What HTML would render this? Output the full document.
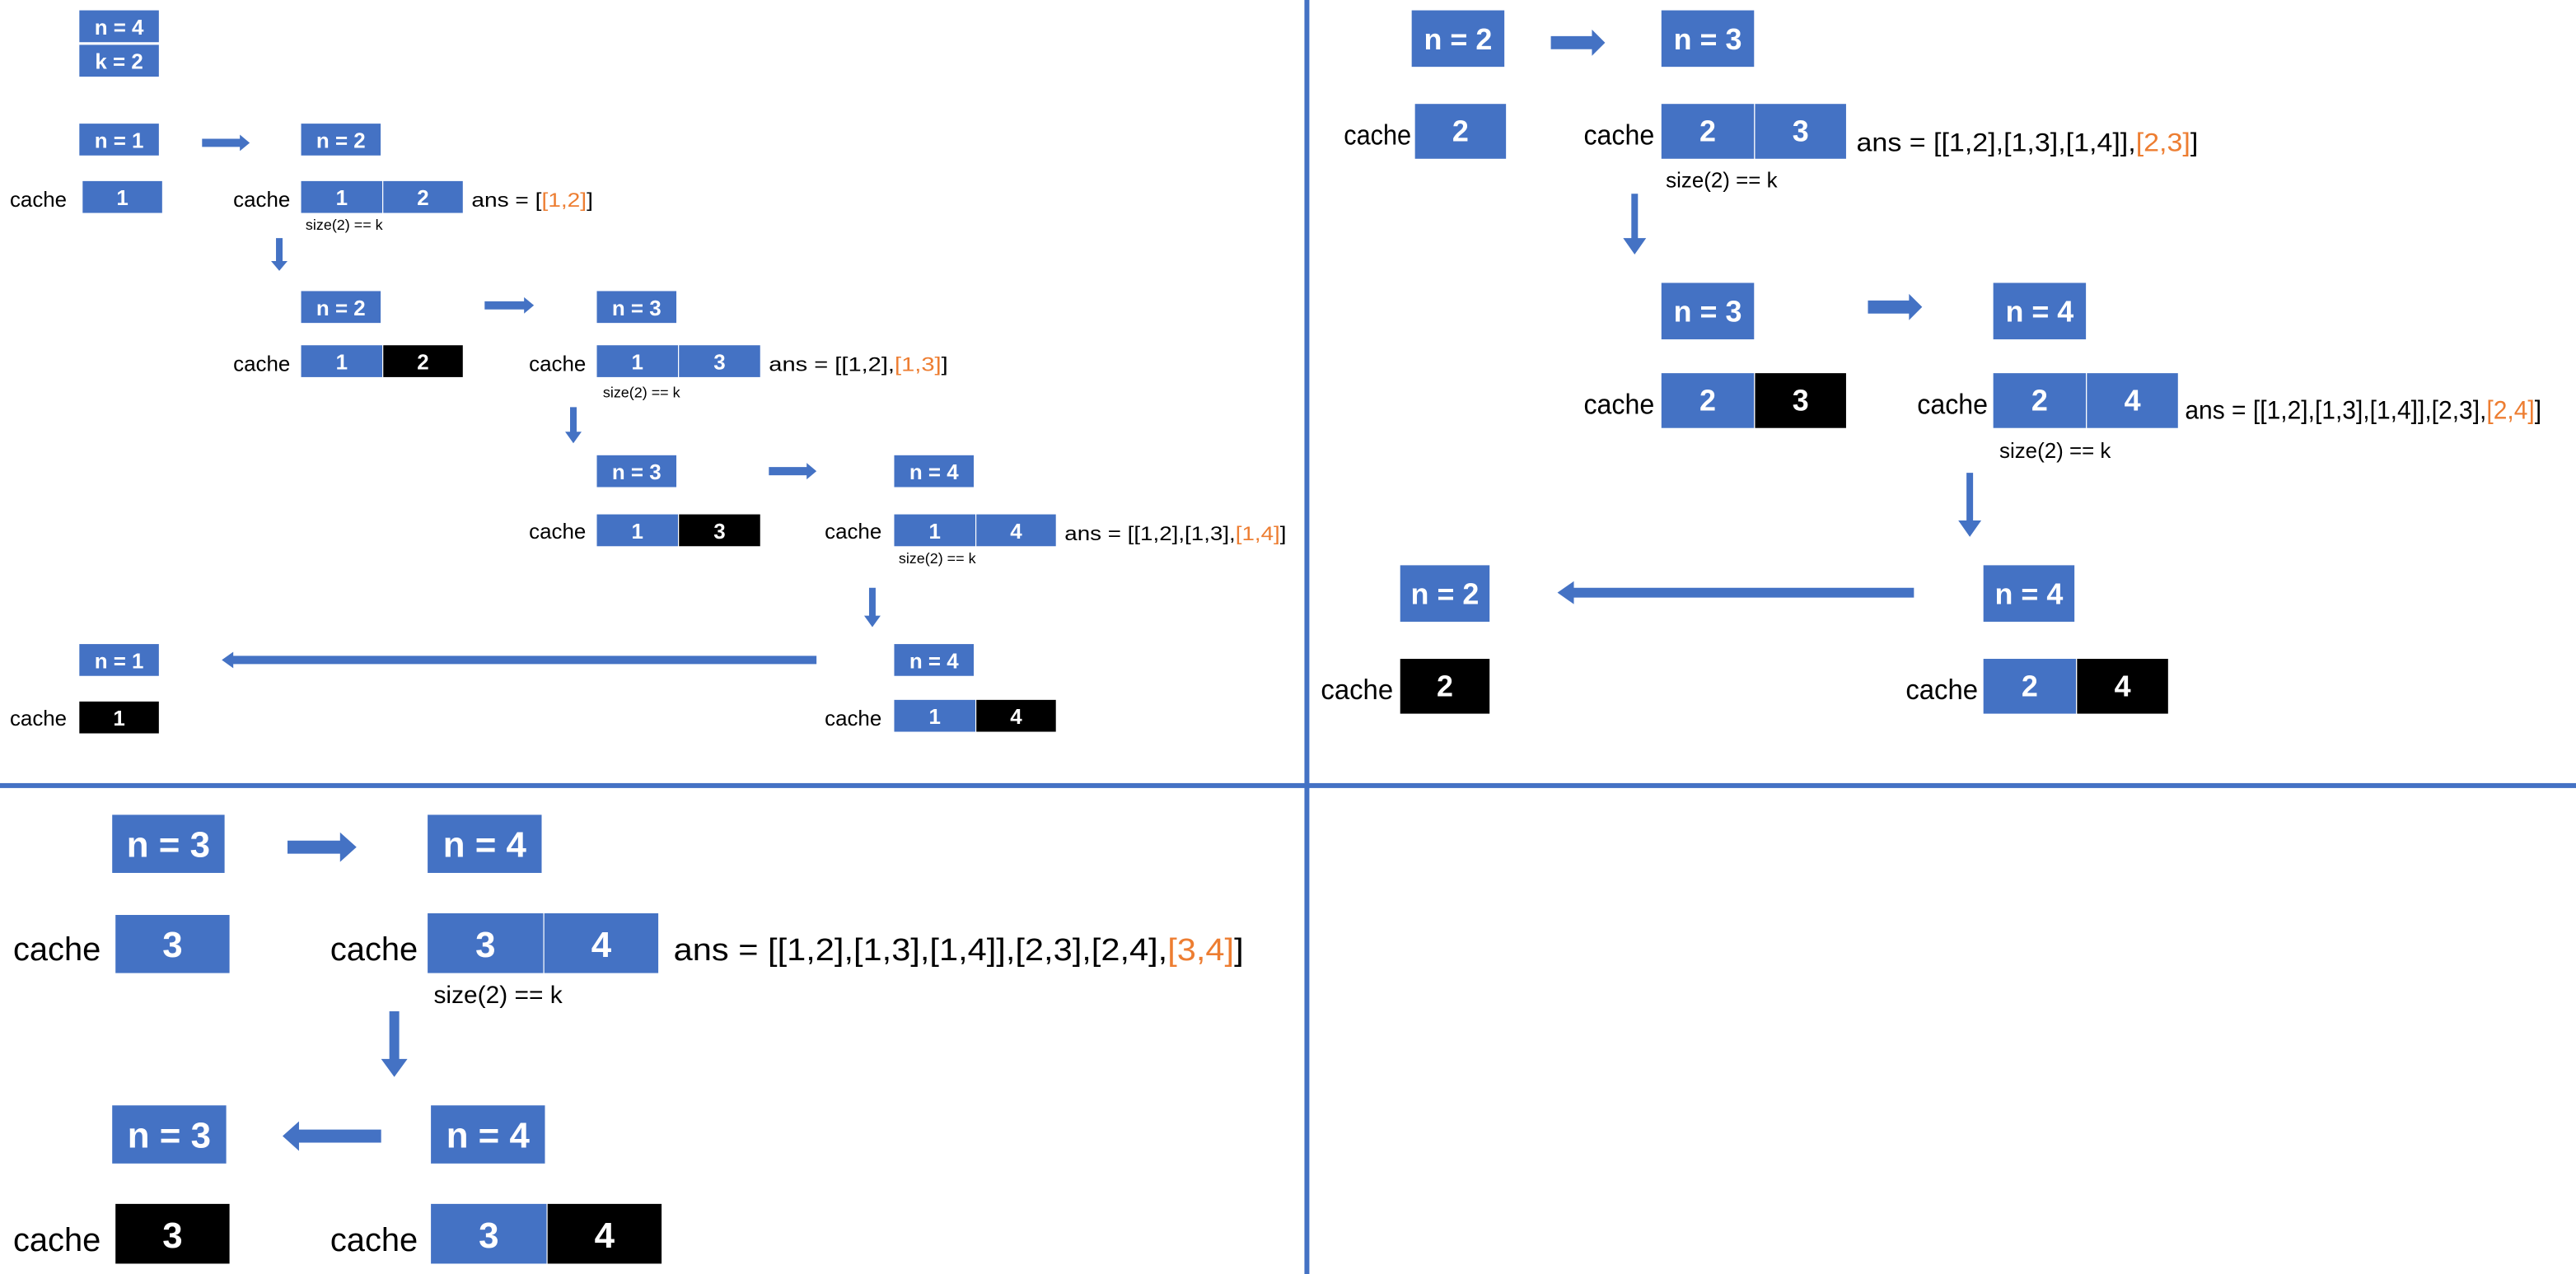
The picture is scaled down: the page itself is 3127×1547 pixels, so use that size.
<!DOCTYPE html>
<html><head><meta charset="utf-8"><style>
html,body{margin:0;padding:0;background:#fff;}
svg{display:block;}
text{font-family:"Liberation Sans Narrow","Liberation Sans",sans-serif;}
.b{fill:#4472C4;stroke:#fff;stroke-width:0.6;}
.k{fill:#000;stroke:#fff;stroke-width:0.6;}
.w{fill:#fff;font-weight:bold;text-anchor:middle;}
.a{fill:#4472C4;}
.o{fill:#ED7D31;}
</style></head><body>
<svg width="3127" height="1547" viewBox="0 0 1568 776" preserveAspectRatio="none" xmlns="http://www.w3.org/2000/svg">
<rect x="0" y="0" width="1568" height="776" fill="#fff"/>
<rect x="794" y="0" width="3" height="776" fill="#4472C4"/>
<rect x="0" y="477" width="1568" height="3" fill="#4472C4"/>

<!-- ========== TOP LEFT ========== -->
<g font-size="13">
<rect class="b" x="48" y="6" width="49" height="20"/><text class="w" x="72.5" y="21">n = 4</text>
<rect class="b" x="48" y="27" width="49" height="20"/><text class="w" x="72.5" y="42">k = 2</text>

<rect class="b" x="48" y="75" width="49" height="20"/><text class="w" x="72.5" y="90">n = 1</text>
<rect class="b" x="183" y="75" width="49" height="20"/><text class="w" x="207.5" y="90">n = 2</text>
<polygon class="a" points="123,84.5 146,84.5 146,82 152,87 146,92 146,89.5 123,89.5"/>

<rect class="b" x="50" y="110" width="49" height="20"/><text class="w" x="74.5" y="125">1</text>
<rect class="b" x="183" y="110" width="50" height="20"/><text class="w" x="208" y="125">1</text>
<rect class="b" x="233" y="110" width="49" height="20"/><text class="w" x="257.5" y="125">2</text>

<polygon class="a" points="168,145 172,145 172,159 175,159 170,165 165,159 168,159"/>

<rect class="b" x="183" y="177" width="49" height="20"/><text class="w" x="207.5" y="192">n = 2</text>
<polygon class="a" points="295,183.5 319,183.5 319,181 325,186 319,191 319,188.5 295,188.5"/>
<rect class="b" x="363" y="177" width="49" height="20"/><text class="w" x="387.5" y="192">n = 3</text>

<rect class="b" x="183" y="210" width="50" height="20"/><text class="w" x="208" y="225">1</text>
<rect class="k" x="233" y="210" width="49" height="20"/><text class="w" x="257.5" y="225">2</text>
<rect class="b" x="363" y="210" width="50" height="20"/><text class="w" x="388" y="225">1</text>
<rect class="b" x="413" y="210" width="50" height="20"/><text class="w" x="438" y="225">3</text>

<polygon class="a" points="347,248 351,248 351,263 354,263 349,270 344,263 347,263"/>

<rect class="b" x="363" y="277" width="49" height="20"/><text class="w" x="387.5" y="292">n = 3</text>
<polygon class="a" points="468,284.5 491,284.5 491,282 497,287 491,292 491,289.5 468,289.5"/>
<rect class="b" x="544" y="277" width="49" height="20"/><text class="w" x="568.5" y="292">n = 4</text>

<rect class="b" x="363" y="313" width="50" height="20"/><text class="w" x="388" y="328">1</text>
<rect class="k" x="413" y="313" width="50" height="20"/><text class="w" x="438" y="328">3</text>
<rect class="b" x="544" y="313" width="50" height="20"/><text class="w" x="569" y="328">1</text>
<rect class="b" x="594" y="313" width="49" height="20"/><text class="w" x="618.5" y="328">4</text>

<polygon class="a" points="529,358 533,358 533,375 536,375 531,382 526,375 529,375"/>

<rect class="b" x="48" y="392" width="49" height="20"/><text class="w" x="72.5" y="407">n = 1</text>
<polygon class="a" points="497,399.5 142,399.5 142,397 135,402 142,407 142,404.5 497,404.5"/>
<rect class="b" x="544" y="392" width="49" height="20"/><text class="w" x="568.5" y="407">n = 4</text>

<rect class="k" x="48" y="427" width="49" height="20"/><text class="w" x="72.5" y="442">1</text>
<rect class="b" x="544" y="426" width="50" height="20"/><text class="w" x="569" y="441">1</text>
<rect class="k" x="594" y="426" width="49" height="20"/><text class="w" x="618.5" y="441">4</text>
</g>
<g font-size="13">
<text x="6" y="126">cache</text>
<text x="142" y="126">cache</text>
<text x="142" y="226">cache</text>
<text x="322" y="226">cache</text>
<text x="322" y="328">cache</text>
<text x="502" y="328">cache</text>
<text x="6" y="442">cache</text>
<text x="502" y="442">cache</text>
</g>
<g font-size="12">
<text x="287" y="126" textLength="74" lengthAdjust="spacingAndGlyphs">ans = [<tspan class="o">[1,2]</tspan>]</text>
<text x="468" y="226" textLength="109" lengthAdjust="spacingAndGlyphs">ans = [[1,2],<tspan class="o">[1,3]</tspan>]</text>
<text x="648" y="329" textLength="135" lengthAdjust="spacingAndGlyphs">ans = [[1,2],[1,3],<tspan class="o">[1,4]</tspan>]</text>
</g>
<g font-size="9">
<text x="186" y="140">size(2) == k</text>
<text x="367" y="242">size(2) == k</text>
<text x="547" y="343">size(2) == k</text>
</g>

<!-- ========== TOP RIGHT ========== -->
<g font-size="18">
<rect class="b" x="859" y="6" width="57" height="35"/><text class="w" x="887.5" y="30">n = 2</text>
<polygon class="a" points="944,22 969,22 969,18 977,26 969,34 969,30 944,30"/>
<rect class="b" x="1011" y="6" width="57" height="35"/><text class="w" x="1039.5" y="30">n = 3</text>

<rect class="b" x="861" y="63" width="56" height="34"/><text class="w" x="889" y="86">2</text>
<rect class="b" x="1011" y="63" width="57" height="34"/><text class="w" x="1039.5" y="86">2</text>
<rect class="b" x="1068" y="63" width="56" height="34"/><text class="w" x="1096" y="86">3</text>

<polygon class="a" points="993,118 997,118 997,145 1002,145 995,155 988,145 993,145"/>

<rect class="b" x="1011" y="172" width="57" height="35"/><text class="w" x="1039.5" y="196">n = 3</text>
<polygon class="a" points="1137,183 1162,183 1162,179 1170,187 1162,195 1162,191 1137,191"/>
<rect class="b" x="1213" y="172" width="57" height="35"/><text class="w" x="1241.5" y="196">n = 4</text>

<rect class="b" x="1011" y="227" width="57" height="34"/><text class="w" x="1039.5" y="250">2</text>
<rect class="k" x="1068" y="227" width="56" height="34"/><text class="w" x="1096" y="250">3</text>
<rect class="b" x="1213" y="227" width="57" height="34"/><text class="w" x="1241.5" y="250">2</text>
<rect class="b" x="1270" y="227" width="56" height="34"/><text class="w" x="1298" y="250">4</text>

<polygon class="a" points="1197,288 1201,288 1201,317 1206,317 1199,327 1192,317 1197,317"/>

<rect class="b" x="852" y="344" width="55" height="35"/><text class="w" x="879.5" y="368">n = 2</text>
<polygon class="a" points="1165,358 958,358 958,354 948,361 958,368 958,364 1165,364"/>
<rect class="b" x="1207" y="344" width="56" height="35"/><text class="w" x="1235" y="368">n = 4</text>

<rect class="k" x="852" y="401" width="55" height="34"/><text class="w" x="879.5" y="424">2</text>
<rect class="b" x="1207" y="401" width="57" height="34"/><text class="w" x="1235.5" y="424">2</text>
<rect class="k" x="1264" y="401" width="56" height="34"/><text class="w" x="1292" y="424">4</text>
</g>
<g font-size="17">
<text x="818" y="88" textLength="41" lengthAdjust="spacingAndGlyphs">cache</text>
<text x="964" y="88" textLength="43" lengthAdjust="spacingAndGlyphs">cache</text>
<text x="964" y="252" textLength="43" lengthAdjust="spacingAndGlyphs">cache</text>
<text x="1167" y="252" textLength="43" lengthAdjust="spacingAndGlyphs">cache</text>
<text x="804" y="426" textLength="44" lengthAdjust="spacingAndGlyphs">cache</text>
<text x="1160" y="426" textLength="44" lengthAdjust="spacingAndGlyphs">cache</text>
</g>
<g font-size="16">
<text x="1130" y="92" textLength="208" lengthAdjust="spacingAndGlyphs">ans = [[1,2],[1,3],[1,4]],<tspan class="o">[2,3]</tspan>]</text>
<text x="1330" y="255" textLength="217" lengthAdjust="spacingAndGlyphs">ans = [[1,2],[1,3],[1,4]],[2,3],<tspan class="o">[2,4]</tspan>]</text>
</g>
<g font-size="13">
<text x="1014" y="114">size(2) == k</text>
<text x="1217" y="279">size(2) == k</text>
</g>

<!-- ========== BOTTOM LEFT ========== -->
<g font-size="22">
<rect class="b" x="68" y="496" width="69" height="36"/><text class="w" x="102.5" y="522">n = 3</text>
<polygon class="a" points="175,512 207,512 207,507 217,516 207,525 207,520 175,520"/>
<rect class="b" x="260" y="496" width="70" height="36"/><text class="w" x="295" y="522">n = 4</text>

<rect class="b" x="70" y="557" width="70" height="36"/><text class="w" x="105" y="583">3</text>
<rect class="b" x="260" y="556" width="71" height="37"/><text class="w" x="295.5" y="583">3</text>
<rect class="b" x="331" y="556" width="70" height="37"/><text class="w" x="366" y="583">4</text>

<polygon class="a" points="237,616 243,616 243,645 248,645 240,656 232,645 237,645"/>

<rect class="b" x="68" y="673" width="70" height="36"/><text class="w" x="103" y="699">n = 3</text>
<polygon class="a" points="232,688 182,688 182,683 172,692 182,701 182,696 232,696"/>
<rect class="b" x="262" y="673" width="70" height="36"/><text class="w" x="297" y="699">n = 4</text>

<rect class="k" x="70" y="733" width="70" height="37"/><text class="w" x="105" y="760">3</text>
<rect class="b" x="262" y="733" width="71" height="37"/><text class="w" x="297.5" y="760">3</text>
<rect class="k" x="333" y="733" width="70" height="37"/><text class="w" x="368" y="760">4</text>
</g>
<g font-size="20">
<text x="8" y="585">cache</text>
<text x="201" y="585">cache</text>
<text x="8" y="762">cache</text>
<text x="201" y="762">cache</text>
</g>
<text x="410" y="585" font-size="19" textLength="347" lengthAdjust="spacingAndGlyphs">ans = [[1,2],[1,3],[1,4]],[2,3],[2,4],<tspan class="o">[3,4]</tspan>]</text>
<text x="264" y="611" font-size="15">size(2) == k</text>
</svg>
</body></html>
